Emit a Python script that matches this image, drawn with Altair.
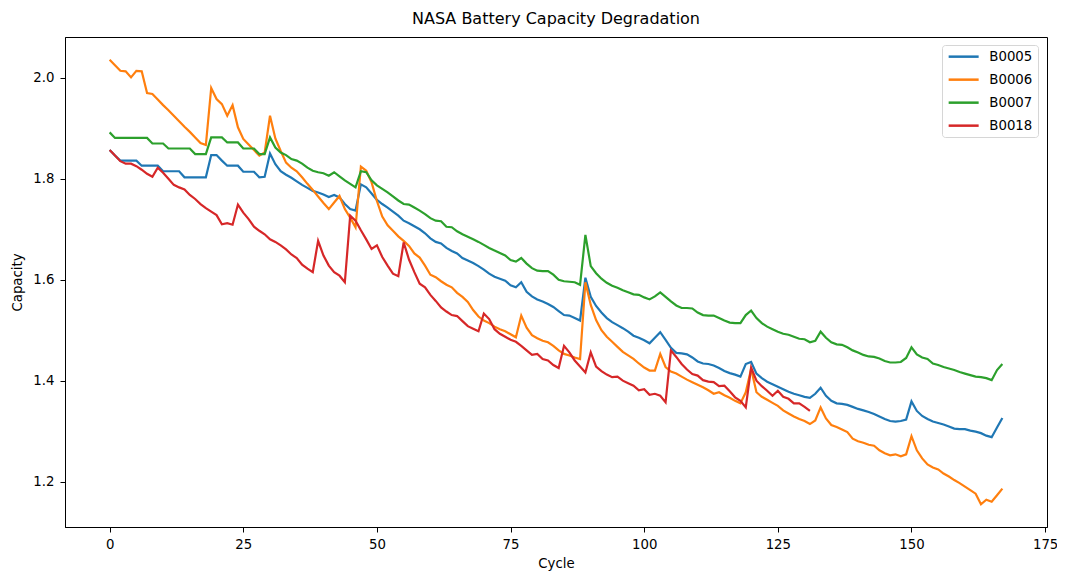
import altair as alt
import pandas as pd

names = ["B0005", "B0006", "B0007", "B0018"]
colors = ["#1f77b4", "#ff7f0e", "#2ca02c", "#d62728"]
x_ticks = [0, 25, 50, 75, 100, 125, 150, 175]
y_ticks = [1.2, 1.4, 1.6, 1.8, 2.0]

b0005 = [
    1.857, 1.846, 1.836, 1.836, 1.836, 1.836, 1.826, 1.826, 1.826, 1.826,
    1.815, 1.815, 1.815, 1.815, 1.803, 1.803, 1.803, 1.803, 1.803, 1.847,
    1.847, 1.836, 1.826, 1.826, 1.826, 1.814, 1.814, 1.814, 1.803, 1.804,
    1.850, 1.829, 1.815, 1.808, 1.802, 1.795, 1.788, 1.782, 1.776, 1.773,
    1.769, 1.764, 1.768, 1.763, 1.750, 1.740, 1.737, 1.789, 1.783, 1.771,
    1.758, 1.750, 1.743, 1.735, 1.727, 1.717, 1.712, 1.706, 1.700, 1.692,
    1.682, 1.675, 1.672, 1.663, 1.657, 1.652, 1.643, 1.638, 1.633, 1.627,
    1.620, 1.612, 1.606, 1.602, 1.598, 1.589, 1.585, 1.595, 1.576, 1.567,
    1.561, 1.557, 1.552, 1.546, 1.538, 1.530, 1.529, 1.524, 1.519, 1.604,
    1.566, 1.548, 1.535, 1.524, 1.516, 1.510, 1.504, 1.497, 1.489, 1.485,
    1.480, 1.474, 1.485, 1.496, 1.481, 1.465, 1.455, 1.454, 1.452, 1.446,
    1.438, 1.434, 1.433, 1.430, 1.425, 1.419, 1.415, 1.412, 1.408, 1.433,
    1.437, 1.414, 1.405, 1.398, 1.393, 1.388, 1.383, 1.378, 1.374, 1.371,
    1.368, 1.366, 1.374, 1.386, 1.370, 1.360, 1.355, 1.354, 1.352, 1.348,
    1.344, 1.341, 1.338, 1.334, 1.329, 1.324, 1.320, 1.319, 1.320, 1.323,
    1.359, 1.340, 1.330, 1.324, 1.319, 1.316, 1.313, 1.309, 1.305, 1.304,
    1.304, 1.301, 1.299, 1.296, 1.291, 1.288, 1.307, 1.326,
]

b0006 = [
    2.036, 2.025, 2.014, 2.013, 2.001, 2.014, 2.013, 1.970, 1.968, 1.957,
    1.946, 1.936, 1.925, 1.914, 1.903, 1.893, 1.882, 1.871, 1.867, 1.980,
    1.958, 1.948, 1.925, 1.946, 1.902, 1.879, 1.868, 1.857, 1.846, 1.852,
    1.925, 1.880, 1.855, 1.832, 1.822, 1.815, 1.803, 1.790, 1.778, 1.765,
    1.752, 1.740, 1.753, 1.766, 1.740, 1.723, 1.704, 1.824, 1.816, 1.793,
    1.756, 1.725, 1.708, 1.697, 1.686, 1.677, 1.667, 1.652, 1.644, 1.628,
    1.610, 1.605, 1.597, 1.590, 1.585, 1.574, 1.566, 1.556, 1.540, 1.527,
    1.519, 1.514, 1.507, 1.502, 1.498, 1.492, 1.486, 1.529, 1.505, 1.490,
    1.484, 1.479, 1.476, 1.469, 1.460, 1.453, 1.450, 1.446, 1.443, 1.595,
    1.550, 1.520, 1.500, 1.487, 1.477, 1.467, 1.457, 1.450, 1.443, 1.434,
    1.426, 1.420, 1.420, 1.453, 1.427, 1.418, 1.414, 1.408, 1.402, 1.397,
    1.392, 1.387, 1.381, 1.374, 1.377, 1.371, 1.366, 1.360, 1.355, 1.377,
    1.423, 1.377, 1.368, 1.362, 1.356, 1.350, 1.341, 1.335, 1.329, 1.324,
    1.320, 1.314, 1.321, 1.347, 1.325, 1.312, 1.308, 1.303, 1.298, 1.285,
    1.280, 1.277, 1.273, 1.271, 1.262, 1.256, 1.252, 1.254, 1.250, 1.254,
    1.290, 1.262, 1.246, 1.234, 1.228, 1.224, 1.216, 1.210, 1.203, 1.197,
    1.190, 1.183, 1.176, 1.155, 1.164, 1.160, 1.173, 1.186,
]

b0007 = [
    1.892, 1.881, 1.881, 1.881, 1.881, 1.881, 1.881, 1.881, 1.870, 1.870,
    1.870, 1.860, 1.860, 1.860, 1.860, 1.860, 1.849, 1.849, 1.849, 1.882,
    1.882, 1.882, 1.872, 1.872, 1.872, 1.860, 1.860, 1.860, 1.849, 1.849,
    1.882, 1.862, 1.852, 1.847, 1.839, 1.836, 1.830, 1.822, 1.816, 1.813,
    1.811, 1.806, 1.813, 1.805, 1.797, 1.790, 1.783, 1.815, 1.813, 1.797,
    1.787, 1.780, 1.773, 1.765, 1.757, 1.750, 1.749, 1.743, 1.737, 1.730,
    1.722, 1.717, 1.716, 1.705, 1.704, 1.696, 1.690, 1.685, 1.680, 1.675,
    1.669, 1.663, 1.658, 1.653, 1.648, 1.639, 1.636, 1.643, 1.632, 1.623,
    1.618, 1.617, 1.617, 1.610, 1.600, 1.597, 1.596, 1.595, 1.590, 1.689,
    1.627, 1.613, 1.602, 1.594, 1.588, 1.584, 1.579, 1.575, 1.571, 1.570,
    1.565, 1.561, 1.567, 1.575, 1.566, 1.557, 1.549, 1.544, 1.544, 1.543,
    1.535, 1.530, 1.529, 1.529, 1.524, 1.519, 1.515, 1.514, 1.514, 1.530,
    1.539, 1.524, 1.514, 1.507, 1.502, 1.497, 1.493, 1.491, 1.487, 1.483,
    1.482, 1.476, 1.479, 1.497, 1.485, 1.476, 1.472, 1.471, 1.466, 1.460,
    1.456, 1.451, 1.448, 1.447, 1.444, 1.439, 1.436, 1.436, 1.437, 1.445,
    1.466, 1.452, 1.446, 1.443, 1.434, 1.431, 1.427, 1.424, 1.421, 1.417,
    1.414, 1.411, 1.408, 1.407, 1.405, 1.401, 1.421, 1.433,
]

b0018 = [
    1.857, 1.846, 1.835, 1.830, 1.830, 1.825, 1.818, 1.810, 1.804, 1.822,
    1.812, 1.800, 1.788, 1.783, 1.779, 1.768, 1.760, 1.750, 1.742, 1.735,
    1.728, 1.710, 1.712, 1.709, 1.749, 1.733, 1.720, 1.705, 1.697, 1.690,
    1.680, 1.675, 1.668, 1.660, 1.650, 1.643, 1.630, 1.622, 1.615, 1.677,
    1.648, 1.628, 1.615, 1.608, 1.595, 1.727, 1.717, 1.698, 1.680, 1.661,
    1.668, 1.645, 1.628, 1.612, 1.607, 1.674, 1.640, 1.615, 1.592, 1.585,
    1.570, 1.558, 1.545, 1.537, 1.530, 1.528, 1.518, 1.508, 1.503, 1.498,
    1.533, 1.522, 1.502, 1.493, 1.487, 1.481, 1.477, 1.469, 1.460, 1.451,
    1.453, 1.443, 1.440, 1.431, 1.425, 1.469, 1.456, 1.440, 1.428, 1.416,
    1.456, 1.428, 1.419, 1.412, 1.407, 1.408, 1.400, 1.395, 1.390, 1.381,
    1.383, 1.372, 1.374, 1.370, 1.357, 1.460, 1.447, 1.433, 1.422, 1.413,
    1.410, 1.401, 1.398, 1.397, 1.389, 1.390, 1.379, 1.367, 1.360, 1.347,
    1.426, 1.400, 1.389, 1.380, 1.370, 1.380, 1.368, 1.364, 1.355, 1.355,
    1.348, 1.340,
]

rows = []
for name, vals in zip(names, [b0005, b0006, b0007, b0018]):
    for i, v in enumerate(vals):
        rows.append({"Cycle": i, "Capacity": v, "Battery": name})
df = pd.DataFrame(rows)

FONT = "DejaVu Sans"

chart = (
    alt.Chart(df)
    .mark_line(strokeWidth=2.2)
    .encode(
        x=alt.X(
            "Cycle:Q",
            scale=alt.Scale(domain=[-8.35, 175.35], nice=False, zero=False),
            axis=alt.Axis(values=x_ticks, title="Cycle", grid=False, format="d",
                          labelPadding=5, titlePadding=6),
        ),
        y=alt.Y(
            "Capacity:Q",
            scale=alt.Scale(domain=[1.110, 2.081], nice=False, zero=False),
            axis=alt.Axis(values=y_ticks, title="Capacity", grid=False, format=".1f",
                          labelPadding=6, titlePadding=8),
        ),
        color=alt.Color(
            "Battery:N",
            scale=alt.Scale(domain=names, range=colors),
            legend=alt.Legend(
                title=None,
                orient="none",
                legendX=877,
                legendY=8,
                symbolType="M-1,0H5",
                symbolSize=100,
                symbolStrokeWidth=2.5,
                symbolFillColor="transparent",
                labelOffset=29,
                labelFontSize=13.3,
                labelFont=FONT,
                labelColor="black",
                rowPadding=9,
                padding=5,
                strokeColor="#d6d6d6",
                fillColor="white",
                cornerRadius=3,
            ),
        ),
        order=alt.Order("Cycle:Q"),
    )
    .properties(
        width=982,
        height=490,
        title=alt.Title("NASA Battery Capacity Degradation", fontSize=16, font=FONT,
                        fontWeight="normal", color="black", offset=10, anchor="middle"),
        autosize=alt.AutoSizeParams(type="none"),
        padding={"left": 57, "top": 29, "right": 10, "bottom": 50},
    )
    .configure_view(stroke="black", strokeWidth=1)
    .configure_axis(
        domainColor="black",
        domainWidth=1,
        tickColor="black",
        tickSize=5,
        tickWidth=1,
        labelFont=FONT,
        labelFontSize=13.3,
        labelColor="black",
        titleFont=FONT,
        titleFontSize=13.3,
        titleFontWeight="normal",
        titleColor="black",
    )
)

chart.save("out.html", embed_options={"renderer": "svg", "actions": False})
